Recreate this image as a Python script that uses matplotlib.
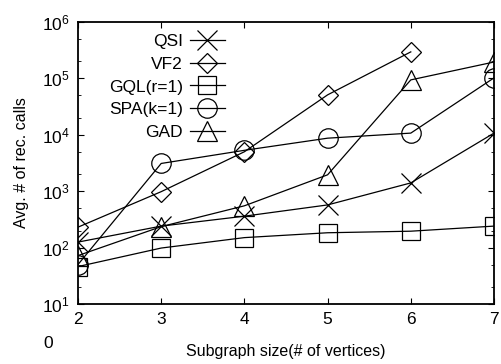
import matplotlib.pyplot as plt
from matplotlib.ticker import LogLocator, NullFormatter

plt.rcParams['font.family'] = ['Liberation Sans', 'DejaVu Sans']

# subgraph sizes
sizes = [2, 3, 4, 5, 6, 7]

# avg. number of recursive calls per method
qsi = [125, 240, 360, 570, 1400, 10700]
vf2 = [230, 980, 5000, 51000, 295000]
gql = [46, 98, 150, 183, 195, 240]
spa = [50, 3100, 5300, 8700, 10700, 102000]
gad = [72, 235, 550, 1950, 94000, 195000]

fig = plt.figure(figsize=(5.01, 3.64), dpi=100)
ax = fig.add_axes([0.1557, 0.165, 0.8303, 0.7746])

style = dict(color='black', lw=0.9, mfc='none', mec='black', mew=0.9)
ax.plot(sizes, qsi, marker='x', ms=14, label='QSI', **style)
ax.plot(sizes[:5], vf2, marker='D', ms=10.5, label='VF2', **style)
ax.plot(sizes, gql, marker='s', ms=13.5, label='GQL(r=1)', **style)
ax.plot(sizes, spa, marker='o', ms=14, label='SPA(k=1)', **style)
ax.plot(sizes, gad, marker='^', ms=14, label='GAD', **style)

ax.set_yscale('log')
ax.set_xlim(2, 7)
ax.set_ylim(10, 1e6)
ax.set_xticks(sizes)
ax.yaxis.set_major_locator(LogLocator(base=10, numticks=10))
ax.yaxis.set_minor_locator(LogLocator(base=10, subs=(2, 5), numticks=10))
ax.yaxis.set_minor_formatter(NullFormatter())

ax.tick_params(which='both', direction='in', top=True, right=True, labelsize=12.5)
ax.tick_params(which='major', length=4, width=0.8, pad=6)
ax.tick_params(which='minor', length=2, width=0.6)
for s in ax.spines.values():
    s.set_linewidth(1.3)

ax.set_xlabel('Subgraph size(# of vertices)', fontsize=11.5, labelpad=12)
ax.set_ylabel('Avg. # of rec. calls', fontsize=11.5, labelpad=9)

# stray label left under the y axis in the original
fig.text(48 / 501, 1 - 343 / 364, '0', fontsize=12.5, ha='center', va='center')

ax.legend(loc='upper left', markerfirst=False, frameon=False, fontsize=12.5,
          handlelength=2.0, handletextpad=0.4, labelspacing=0.43,
          borderaxespad=0.3, bbox_to_anchor=(0.045, 1.0))

fig.savefig('out.png', dpi=100)
